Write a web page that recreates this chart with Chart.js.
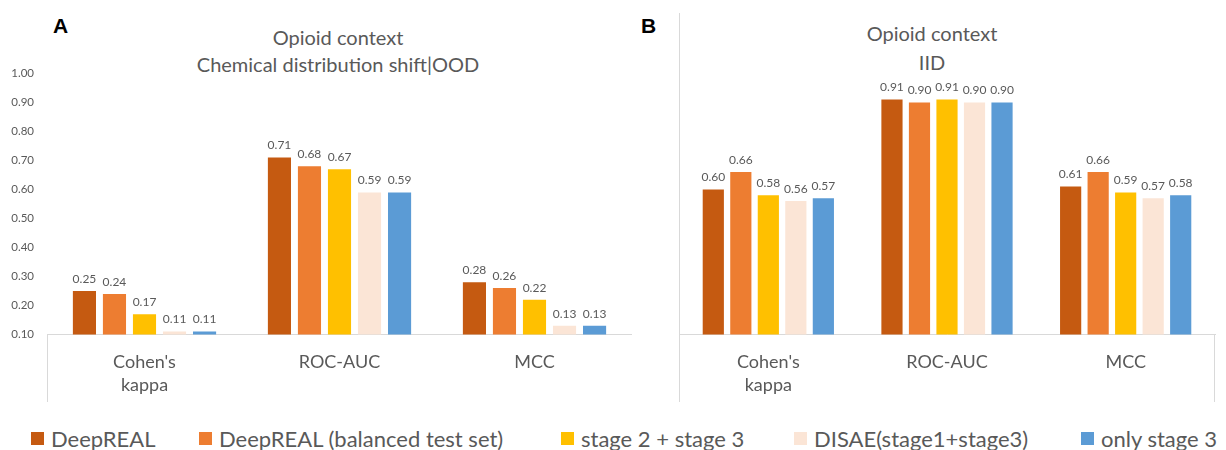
<!DOCTYPE html>
<html>
<head>
<meta charset="utf-8">
<script src="https://cdn.jsdelivr.net/npm/chart.js@4.4.1/dist/chart.umd.min.js"></script>
<style>
  html, body { margin: 0; padding: 0; background: #fff; }
  body { width: 1226px; height: 450px; position: relative; overflow: hidden;
         font-family: Lato, "Noto Sans", sans-serif; color: #595959; }
  .panel { position: absolute; top: 0; height: 405px; }
  #panelA { left: 0; width: 632px; }
  #panelB { left: 632px; width: 594px; }
  .letter { position: absolute; font-family: "Liberation Sans", Arial, sans-serif;
            font-weight: bold; font-size: 21px; line-height: 1; color: #000; }
  .title { position: absolute; font-size: 20px; text-align: center; white-space: nowrap;
           transform: translateX(-50%); }
  #legend { position: absolute; left: 0; top: 424px; width: 1226px; height: 28px;
            font-size: 22px; white-space: nowrap; }
  .item { position: absolute; top: 0; height: 28px; display: flex; align-items: center; gap: 7px; }
  .swatch { width: 13px; height: 13px; }
</style>
</head>
<body>
<div class="letter" style="left:53px; top:15px;">A</div>
<div class="letter" style="left:641px; top:15px;">B</div>
<div class="title" style="left:338px; top:24px; line-height:27px;">Opioid context<br>Chemical distribution shift|OOD</div>
<div class="title" style="left:932px; top:19px; line-height:29px;">Opioid context<br>IID</div>

<div class="panel" id="panelA"><canvas id="chartA" width="632" height="405"></canvas></div>
<div class="panel" id="panelB"><canvas id="chartB" width="594" height="405"></canvas></div>
<div id="legend"></div>

<script>
// Metrics on the category axis
const categories = [["Cohen's", "kappa"], "ROC-AUC", "MCC"];

// Model variants and their colours
const seriesNames = ["DeepREAL", "DeepREAL (balanced test set)", "stage 2 + stage 3",
                     "DISAE(stage1+stage3)", "only stage 3"];
const seriesColors = ["#C55A11", "#ED7D31", "#FFC000", "#FBE5D6", "#5B9BD5"];

// Chemical distribution shift (OOD) scores: Cohen's kappa, ROC-AUC, MCC
const oodDeepREAL         = [0.25, 0.71, 0.28];
const oodDeepREALBalanced = [0.24, 0.68, 0.26];
const oodStage23          = [0.17, 0.67, 0.22];
const oodDISAE            = [0.11, 0.59, 0.13];
const oodStage3           = [0.11, 0.59, 0.13];

// IID scores: Cohen's kappa, ROC-AUC, MCC
const iidDeepREAL         = [0.60, 0.91, 0.61];
const iidDeepREALBalanced = [0.66, 0.90, 0.66];
const iidStage23          = [0.58, 0.91, 0.59];
const iidDISAE            = [0.56, 0.90, 0.57];
const iidStage3           = [0.57, 0.90, 0.58];

// Value axis range
const yMin = 0.10;
const yMax = 1.00;
const yStep = 0.10;

// Left edge of each legend entry
const legendLeft = [31, 199, 561, 794, 1081];

const textColor = "#595959";
const lineColor = "#D9D9D9";

function buildDatasets(seriesValues) {
  return seriesValues.map((values, i) => ({
    label: seriesNames[i],
    data: values,
    backgroundColor: seriesColors[i],
    borderWidth: 0,
    categoryPercentage: 0.77,
    barPercentage: 0.77
  }));
}

// Writes each bar's value just above it
const valueLabels = {
  id: "valueLabels",
  afterDatasetsDraw(chart) {
    const ctx = chart.ctx;
    ctx.save();
    ctx.font = "12px Lato, 'Noto Sans', sans-serif";
    ctx.fillStyle = textColor;
    ctx.textAlign = "center";
    ctx.textBaseline = "middle";
    chart.data.datasets.forEach((ds, di) => {
      chart.getDatasetMeta(di).data.forEach((bar, i) => {
        ctx.fillText(ds.data[i].toFixed(2), bar.x, bar.y - 12);
      });
    });
    ctx.restore();
  }
};

// Thin frame around the category label band and the panel divider
const frameLines = {
  id: "frameLines",
  afterDraw(chart, args, opts) {
    const { ctx, chartArea } = chart;
    const { left, right, bottom } = chartArea;
    ctx.save();
    ctx.strokeStyle = lineColor;
    ctx.lineWidth = 1;
    ctx.beginPath();
    ctx.moveTo(left + 0.5, opts.divider ? opts.dividerTop : bottom);
    ctx.lineTo(left + 0.5, opts.boxBottom);
    if (opts.rightEdge) {
      ctx.moveTo(right - 0.5, bottom);
      ctx.lineTo(right - 0.5, opts.boxBottom);
    }
    ctx.stroke();
    ctx.restore();
  }
};

function makeOptions(showY, padLeft, padRight, frame) {
  return {
    responsive: false,
    animation: false,
    layout: { padding: { top: 73.5, bottom: 0, left: padLeft, right: padRight } },
    plugins: {
      legend: { display: false },
      tooltip: { enabled: false },
      frameLines: frame
    },
    scales: {
      x: {
        grid: { display: false, drawTicks: false },
        border: { display: true, color: lineColor, width: 1 },
        ticks: { color: textColor, padding: 15.5,
                 font: { family: "Lato, 'Noto Sans', sans-serif", size: 18, lineHeight: 1.3 } },
        afterFit(scale) { scale.height = 70.5; }
      },
      y: {
        display: showY,
        min: yMin,
        max: yMax,
        grid: { display: false, drawTicks: false },
        border: { display: false },
        ticks: {
          stepSize: yStep,
          padding: 13,
          color: textColor,
          font: { family: "Lato, 'Noto Sans', sans-serif", size: 11.5 },
          callback: v => Number(v).toFixed(2)
        },
        afterFit(scale) { scale.width = 47; }
      }
    }
  };
}

new Chart(document.getElementById("chartA"), {
  type: "bar",
  data: {
    labels: categories,
    datasets: buildDatasets([oodDeepREAL, oodDeepREALBalanced, oodStage23, oodDISAE, oodStage3])
  },
  options: makeOptions(true, 0, 0, { boxBottom: 402, divider: false, rightEdge: false }),
  plugins: [valueLabels, frameLines]
});

new Chart(document.getElementById("chartB"), {
  type: "bar",
  data: {
    labels: categories,
    datasets: buildDatasets([iidDeepREAL, iidDeepREALBalanced, iidStage23, iidDISAE, iidStage3])
  },
  options: makeOptions(false, 0, 11, { boxBottom: 402, divider: true, dividerTop: 13, rightEdge: true }),
  plugins: [valueLabels, frameLines]
});

// Shared legend under both panels
const legend = document.getElementById("legend");
seriesNames.forEach((name, i) => {
  const item = document.createElement("div");
  item.className = "item";
  item.style.left = legendLeft[i] + "px";
  const sw = document.createElement("span");
  sw.className = "swatch";
  sw.style.background = seriesColors[i];
  const label = document.createElement("span");
  label.textContent = name;
  item.appendChild(sw);
  item.appendChild(label);
  legend.appendChild(item);
});
</script>
</body>
</html>
